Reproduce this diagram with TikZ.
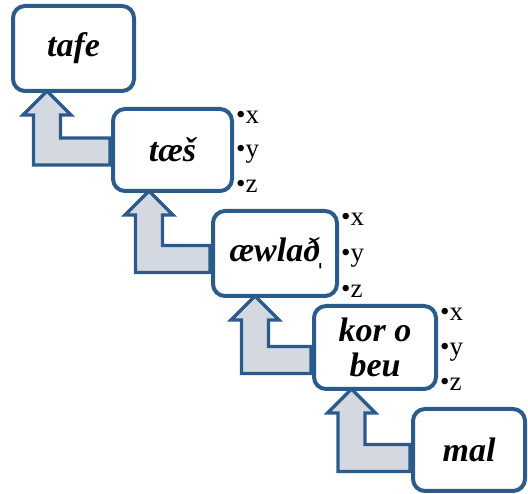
\documentclass[tikz,border=0pt]{standalone}
\usepackage{fontspec}
\setmainfont{Liberation Serif}
\newfontfamily\wordfont{Liberation Serif Bold Italic}
\usetikzlibrary{calc}

\definecolor{frameblue}{HTML}{2B5B8B}
\definecolor{arrowfill}{HTML}{D4D8E0}

\tikzset{
  wordbox/.style={draw=frameblue, fill=white, line width=4pt, rounded corners=12pt,
    outer sep=0pt, inner sep=2pt, align=center,
    font=\wordfont\fontsize{34}{35}\selectfont},
  bentshape/.style={draw=frameblue, fill=arrowfill, line width=3.2pt, line join=miter},
  featlist/.style={anchor=base west, inner sep=0pt, font=\fontsize{27}{28}\selectfont}
}

% bent block arrow: from the left side of #2 across and up to the bottom of #1
% #3 = horizontal offset of the tip from the south-west corner of #1
% #4 = vertical offset of the horizontal shaft from the centre of #2
\newcommand\bentarrow[4]{%
  \draw[bentshape] let \p1=($(#1.south west)+(#3,0)$), \p2=($(#2.west)+(0,#4)$) in
    (\x1,\y1) -- (\x1+24pt,\y1-24pt) -- (\x1+13.5pt,\y1-24pt)
    -- (\x1+13.5pt,\y2+13.5pt) -- (\x2-3pt,\y2+13.5pt) -- (\x2-3pt,\y2-13.5pt)
    -- (\x1-13.5pt,\y2-13.5pt) -- (\x1-13.5pt,\y1-24pt) -- (\x1-24pt,\y1-24pt) -- cycle;}

% bullet list x, y, z beside a box
\newcommand\xyzlist[2]{%
  \node[featlist] (#2x) at ($(#1.north east)+(4,15)$) {•x};
  \node[featlist] (#2y) at ($(#1.east)+(4,8)$) {•y};
  \node[featlist] (#2z) at ($(#1.south east)+(4,2)$) {•z};}

\begin{document}
\begin{tikzpicture}[x=1pt,y=-1pt]
\useasboundingbox (0,0) rectangle (528,494);

% box positions (centres)
\coordinate (p1) at (73.5,48.5);
\coordinate (p2) at (172.5,150);
\coordinate (p3) at (275,253.5);
\coordinate (p4) at (375,347.5);
\coordinate (p5) at (469,450);

% boxes are placed first (as paths only) so the arrows can use their anchors
\path node[wordbox, draw=none, fill=none, text opacity=0, minimum width=121pt, minimum height=85pt] (tafe) at (p1) {}
      node[wordbox, draw=none, fill=none, text opacity=0, minimum width=119pt, minimum height=82pt] (taes) at (p2) {}
      node[wordbox, draw=none, fill=none, text opacity=0, minimum width=124pt, minimum height=85pt] (aewlad) at (p3) {}
      node[wordbox, draw=none, fill=none, text opacity=0, minimum width=122pt, minimum height=83pt] (korobeu) at (p4) {}
      node[wordbox, draw=none, fill=none, text opacity=0, minimum width=112pt, minimum height=82pt] (mal) at (p5) {};

% bent arrows underneath the boxes
\bentarrow{tafe}{taes}{34}{1.5}
\bentarrow{taes}{aewlad}{36}{5.5}
\bentarrow{aewlad}{korobeu}{42}{12.5}
\bentarrow{korobeu}{mal}{37.5}{8}

% the word boxes
\node[wordbox, minimum width=121pt, minimum height=85pt] (tafeB) at (p1) {tafe};
\node[wordbox, minimum width=119pt, minimum height=82pt] (taesB) at (p2) {tæš};
\node[wordbox, minimum width=124pt, minimum height=85pt] (aewladB) at (p3) {æwlað̩};
\node[wordbox, minimum width=122pt, minimum height=83pt] (korobeuB) at (p4) {kor o\\beu};
\node[wordbox, minimum width=112pt, minimum height=82pt] (malB) at (p5) {mal};

% feature bullets
\xyzlist{taes}{t}
\xyzlist{aewlad}{a}
\xyzlist{korobeu}{k}
\end{tikzpicture}
\end{document}
